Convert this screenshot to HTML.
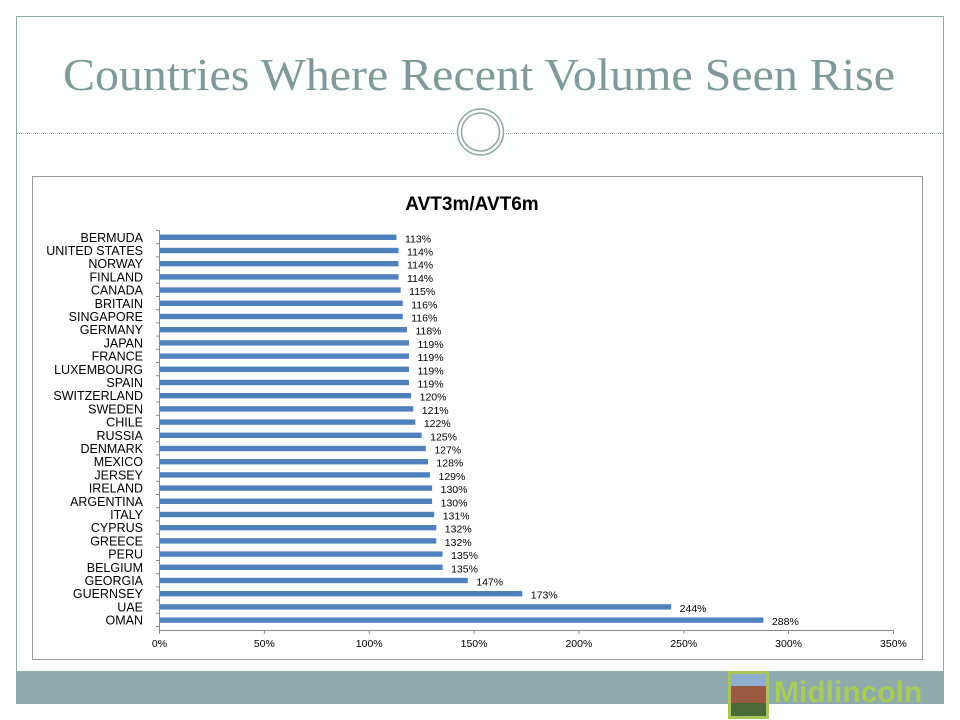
<!DOCTYPE html>
<html><head><style>
body{margin:0;width:960px;height:720px;background:#fff;overflow:hidden;position:relative;font-family:"Liberation Sans",sans-serif}
</style></head><body>
<svg width="960" height="720" xmlns="http://www.w3.org/2000/svg" style="position:absolute;left:0;top:0">
<rect x="16.5" y="16.5" width="927" height="687" fill="#fdfefe" stroke="#8fa8a7"/>
<text x="63" y="90" textLength="832" lengthAdjust="spacingAndGlyphs" font-family="Liberation Serif,serif" font-size="46" fill="#7f9a99">Countries Where Recent Volume Seen Rise</text>
<line x1="17" y1="133.5" x2="455" y2="133.5" stroke="#93a9a8" stroke-dasharray="1,1"/>
<line x1="506" y1="133.5" x2="943" y2="133.5" stroke="#93a9a8" stroke-dasharray="1,1"/>
<circle cx="480.5" cy="132" r="23" fill="#fff" stroke="#8fa8a7" stroke-width="1.5"/>
<circle cx="480.5" cy="132" r="19" fill="#fff" stroke="#8fa8a7" stroke-width="1.5"/>
<rect x="32.5" y="176.5" width="890" height="483" fill="#fff" stroke="#999"/>
<text x="472" y="210" text-anchor="middle" font-size="19" font-weight="bold" fill="#000">AVT3m/AVT6m</text>
<rect x="16" y="671" width="927" height="33" fill="#8faaaa"/>
<rect x="728" y="671" width="41" height="48" fill="#a8c65a"/>
<rect x="731" y="674" width="35" height="42" fill="#9a5a40"/>
<rect x="731" y="674" width="35" height="12" fill="#8fb0d0"/>
<rect x="731" y="703" width="35" height="13" fill="#4a6a3a"/>
<text x="774" y="702" font-size="30" font-weight="bold" fill="#a8cc5a">Midlincoln</text>
<g id="c"></g>
</svg>
<script>
var d=[["BERMUDA",113],["UNITED STATES",114],["NORWAY",114],["FINLAND",114],["CANADA",115],["BRITAIN",116],["SINGAPORE",116],["GERMANY",118],["JAPAN",119],["FRANCE",119],["LUXEMBOURG",119],["SPAIN",119],["SWITZERLAND",120],["SWEDEN",121],["CHILE",122],["RUSSIA",125],["DENMARK",127],["MEXICO",128],["JERSEY",129],["IRELAND",130],["ARGENTINA",130],["ITALY",131],["CYPRUS",132],["GREECE",132],["PERU",135],["BELGIUM",135],["GEORGIA",147],["GUERNSEY",173],["UAE",244],["OMAN",288]];
var s="",x0=159.5,k=2.097,y0=230.5,st=13.2;
s+='<line x1="'+x0+'" y1="'+y0+'" x2="'+x0+'" y2="630" stroke="#888"/>';
s+='<line x1="'+x0+'" y1="630.5" x2="894" y2="630.5" stroke="#888"/>';
for(var i=0;i<=30;i++){var y=y0+i*st;s+='<line x1="156" y1="'+y+'" x2="'+x0+'" y2="'+y+'" stroke="#888"/>';}
for(var j=0;j<=7;j++){var x=x0+j*50*k;s+='<line x1="'+x+'" y1="630" x2="'+x+'" y2="634" stroke="#888"/>';s+='<text x="'+x+'" y="647" text-anchor="middle" font-size="10.5" fill="#000">'+(j*50)+'%</text>';}
d.forEach(function(r,i){var c=237.3+i*st;var w=r[1]*k;
s+='<rect x="160" y="'+(c-2.7)+'" width="'+(w-0.5)+'" height="5.4" fill="#4f81bd"/>';
s+='<text x="143" y="'+(c+4.5)+'" text-anchor="end" font-size="12.5" fill="#000">'+r[0]+'</text>';
s+='<text x="'+(160+w+8)+'" y="'+(c+5)+'" font-size="10.5" fill="#000">'+r[1]+'%</text>';});
document.getElementById("c").innerHTML=s;
</script>
</body></html>
